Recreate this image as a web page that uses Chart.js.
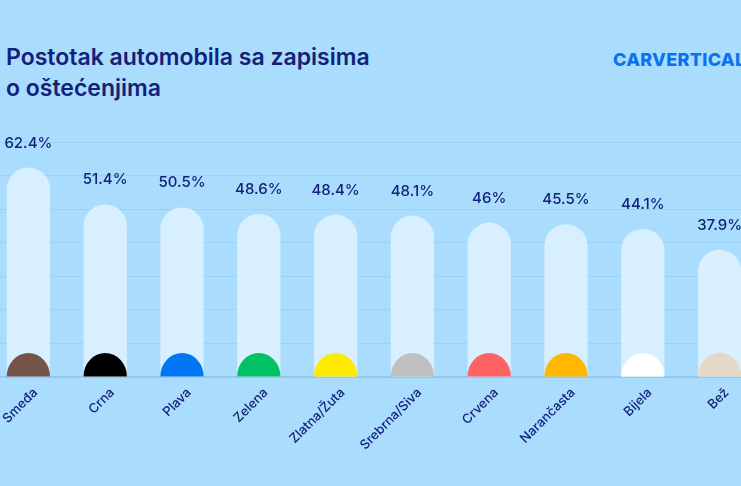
<!DOCTYPE html>
<html>
<head>
<meta charset="utf-8">
<script src="https://cdn.jsdelivr.net/npm/chart.js@4.4.1/dist/chart.umd.min.js"></script>
<style>
  html, body { margin: 0; padding: 0; background: #aadcfe; overflow: hidden; }
  body { width: 741px; height: 486px; position: relative; font-family: Inter, "Noto Sans", sans-serif; }
  #title { position: absolute; left: 6px; top: 42px; color: #13217a; font-size: 23px; font-weight: 600; line-height: 31px; }
  #logo { position: absolute; left: 613px; top: 49px; color: #0a72f0; font-size: 18px; font-weight: 800; letter-spacing: 0.3px; white-space: nowrap; }
  #wrap { position: absolute; left: -10px; top: 0; width: 768px; height: 486px; }
</style>
</head>
<body>
<div id="title">Postotak automobila sa zapisima<br>o oštećenjima</div>
<div id="logo">CARVERTICAL</div>
<div id="wrap"><canvas id="myChart"></canvas></div>
<script>
const categories = ['Smeđa', 'Crna', 'Plava', 'Zelena', 'Zlatna/Žuta', 'Srebrna/Siva', 'Crvena', 'Narančasta', 'Bijela', 'Bež'];
const values = [62.4, 51.4, 50.5, 48.6, 48.4, 48.1, 46, 45.5, 44.1, 37.9];
const valueLabels = ['62.4%', '51.4%', '50.5%', '48.6%', '48.4%', '48.1%', '46%', '45.5%', '44.1%', '37.9%'];
const swatches = ['#745548', '#000000', '#0076f5', '#00c163', '#ffeb00', '#c0c0c0', '#ff6262', '#ffb700', '#ffffff', '#e4d8c6'];

const navy = '#13217a';

// coloured dome at the foot of each bar
const domes = {
    id: 'domes',
    afterDatasetsDraw(chart) {
        const c = chart.ctx;
        chart.getDatasetMeta(0).data.forEach((bar, i) => {
            c.save();
            c.fillStyle = swatches[i];
            c.beginPath();
            c.ellipse(bar.x, bar.base, bar.width / 2, 23.5, 0, Math.PI, 2 * Math.PI);
            c.closePath();
            c.fill();
            c.restore();
        });
    }
};

// value text above each bar
const topLabels = {
    id: 'topLabels',
    afterDatasetsDraw(chart) {
        const c = chart.ctx;
        c.save();
        c.fillStyle = navy;
        c.font = '500 15px Inter, "Noto Sans", sans-serif';
        c.textAlign = 'center';
        c.textBaseline = 'alphabetic';
        chart.getDatasetMeta(0).data.forEach((bar, i) => {
            c.fillText(valueLabels[i], bar.x, bar.y - 20);
        });
        c.restore();
    }
};

const ctx = document.getElementById('myChart').getContext('2d');

const myChart = new Chart(ctx, {
    type: 'bar',
    data: {
        labels: categories,
        datasets: [{
            data: values,
            backgroundColor: '#d7effe',
            borderWidth: 0,
            borderSkipped: 'start',
            borderRadius: { topLeft: 40, topRight: 40, bottomLeft: 0, bottomRight: 0 },
            categoryPercentage: 1,
            barPercentage: 0.565
        }]
    },
    options: {
        responsive: true,
        maintainAspectRatio: false,
        animation: false,
        layout: { padding: { top: 142, left: 0, right: 0, bottom: 0 } },
        plugins: {
            legend: { display: false },
            tooltip: { enabled: false }
        },
        scales: {
            x: {
                grid: { display: false },
                border: { color: '#93c7f1', width: 2 },
                ticks: {
                    color: navy,
                    font: { family: 'Inter, "Noto Sans", sans-serif', size: 13, weight: 500 },
                    minRotation: 45,
                    maxRotation: 45,
                    autoSkip: false,
                    padding: 0,
                    labelOffset: 7
                },
                afterFit: (scale) => { scale.height = 109; }
            },
            y: {
                min: 0,
                max: 70,
                ticks: { display: false, stepSize: 10 },
                grid: { color: '#9bd0f8', lineWidth: 1, drawTicks: false },
                border: { display: false },
                afterFit: (scale) => { scale.width = 0; }
            }
        }
    },
    plugins: [domes, topLabels]
});
</script>
</body>
</html>
